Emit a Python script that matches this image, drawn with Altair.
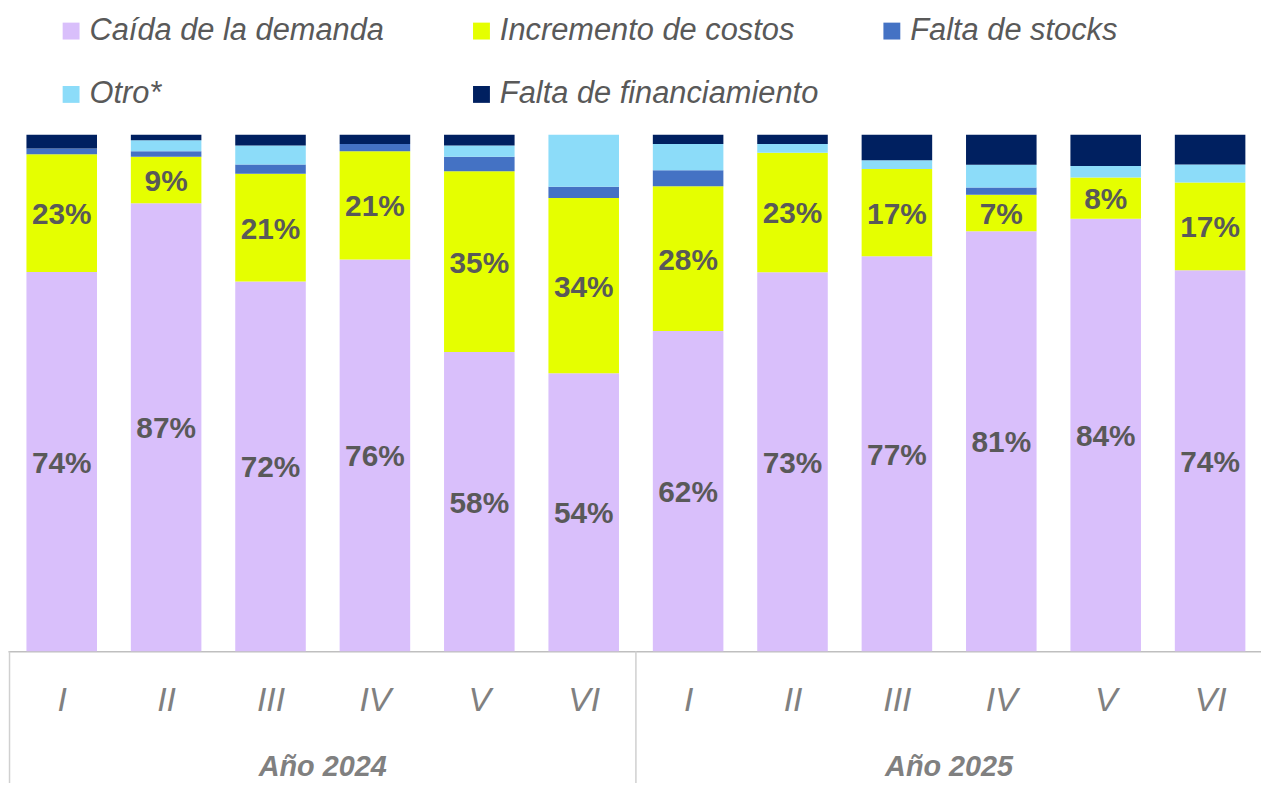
import json
import altair as alt
import pandas as pd

# ---------------- data ----------------
periods = ["I", "II", "III", "IV", "V", "VI", "I", "II", "III", "IV", "V", "VI"]
years = ["Año 2024"] * 6 + ["Año 2025"] * 6
series = ["Caída de la demanda", "Incremento de costos", "Falta de stocks",
          "Otro*", "Falta de financiamiento"]
colors = ["#D9BFFB", "#E5FF00", "#4472C4", "#8CDCF9", "#002060"]

demanda = [74, 87, 72, 76, 58, 54, 62, 73, 77, 81, 84, 74]
costos = [23, 9, 21, 21, 35, 34, 28, 23, 17, 7, 8, 17]
stocks = [1.1, 1.1, 1.8, 1.4, 2.8, 2.2, 3.1, 0, 0, 1.4, 0, 0]
otro = [0, 2.1, 3.7, 0, 2.2, 10.1, 5.1, 1.7, 1.7, 4.4, 2.2, 3.5]
financ = [2.7, 1.1, 2.1, 1.8, 2.1, 0, 1.8, 1.8, 5.0, 5.8, 6.1, 5.8]
labeled = ["Caída de la demanda", "Incremento de costos"]

values = [demanda, costos, stocks, otro, financ]
rows = []
for k, (name, vals) in enumerate(zip(series, values)):
    for i, v in enumerate(vals):
        rows.append({"i": i, "period": periods[i], "year": years[i],
                     "serie": name, "order": k, "value": v})
df = pd.DataFrame(rows)

FONT = "Liberation Sans, Arial, sans-serif"

xscale = alt.Scale(domain=[-0.467, 11.44], nice=False, zero=False, clamp=True)
yscale = alt.Scale(domain=[0, 1], nice=False)

xaxis = alt.Axis(
    values=list(range(12)),
    labelExpr=f"{json.dumps(periods)}[datum.value]",
    title=None, ticks=False, tickSize=0, grid=False,
    domainColor="#BFBFBF", domainWidth=1.5,
    labelFont=FONT, labelFontSize=34, labelFontStyle="italic",
    labelColor="#808080", labelPadding=33, labelFlush=False,
    labelOverlap=False,
)

base = alt.Chart(df)

stacked = base.transform_stack(
    stack="value", groupby=["i"], sort=[alt.SortField("order")],
    as_=["y0", "y1"], offset="normalize",
)

bars = stacked.mark_bar(size=71).encode(
    x=alt.X("i:Q", scale=xscale, axis=xaxis),
    y=alt.Y("y0:Q", scale=yscale, axis=None),
    y2="y1:Q",
    color=alt.Color(
        "serie:N",
        scale=alt.Scale(domain=series, range=colors),
        legend=alt.Legend(
            orient="none", legendX=48, legendY=-120, columns=3,
            direction="horizontal",
            gridAlign="all", columnPadding=58, rowPadding=32,
            symbolType="square", symbolSize=289, symbolStrokeWidth=0,
            symbolOpacity=1,
            labelFont=FONT, labelFontSize=31, labelFontStyle="italic",
            labelColor="#595959", labelOffset=3, labelLimit=0,
            title=None, padding=0,
        ),
    ),
)

labels = stacked.transform_filter(
    alt.FieldOneOfPredicate(field="serie", oneOf=labeled)
).transform_calculate(
    mid="(datum.y0 + datum.y1) / 2",
    lab="format(datum.value, 'd') + '%'",
).mark_text(
    font=FONT, fontSize=30, fontWeight="bold", color="#595959",
    align="center", baseline="middle", dy=2,
).encode(
    x=alt.X("i:Q", scale=xscale),
    y=alt.Y("mid:Q", scale=yscale, axis=None),
    text="lab:N",
)

groups = base.transform_filter(alt.datum.order == 0).transform_aggregate(
    center="mean(i)", start="min(i)", groupby=["year"]
).transform_calculate(sep="datum.start - 0.5")

group_text = groups.mark_text(
    font=FONT, fontSize=29, fontWeight="bold", fontStyle="italic",
    color="#808080", align="center", baseline="alphabetic",
).encode(
    x=alt.X("center:Q", scale=xscale),
    y=alt.value(645),
    text="year:N",
)

separators = groups.mark_rule(color="#D0D0D0", strokeWidth=1.5).encode(
    x=alt.X("sep:Q", scale=xscale),
    y=alt.value(520),
    y2=alt.value(700),
)

chart = alt.layer(bars, labels, separators, group_text).properties(
    width=1261, height=520,
    padding={"left": 0, "top": 125, "right": 0, "bottom": 130},
    autosize=alt.AutoSizeParams(type="none"),
    background="white",
).configure_view(stroke=None)

chart.save("out.html", embed_options={"renderer": "svg", "actions": False})
